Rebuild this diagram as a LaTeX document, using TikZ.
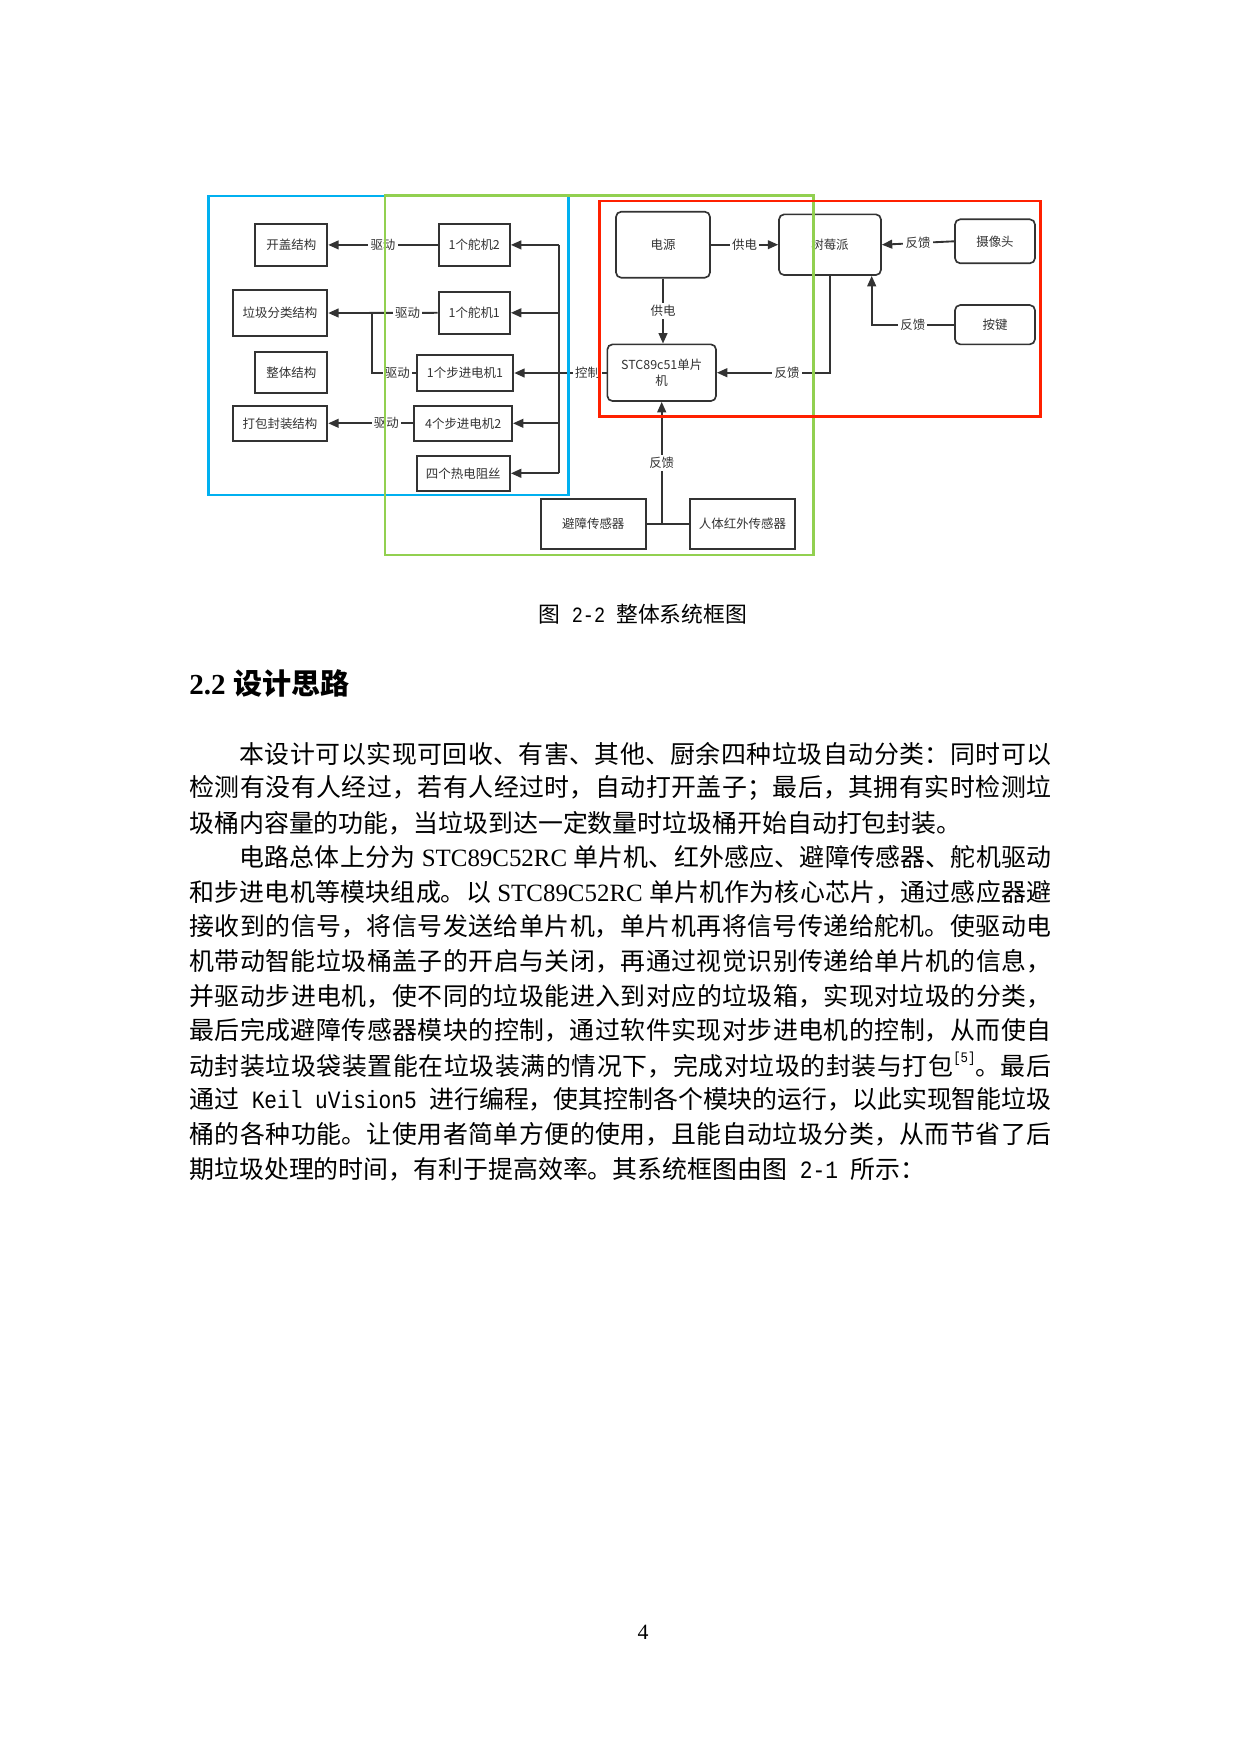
\documentclass[tikz,border=0pt]{standalone}
\usepackage{fontspec}
\setmainfont{Liberation Serif}
\newfontfamily\cjk{Noto Sans CJK SC}
\newfontfamily\monof[FakeStretch=0.85]{Liberation Mono}
\usetikzlibrary{arrows.meta}
\XeTeXlinebreaklocale "zh"
\XeTeXlinebreakskip=0pt plus 3pt minus 0.5pt
\definecolor{dk}{HTML}{333333}
\definecolor{fblue}{HTML}{00B0F0}
\definecolor{fgreen}{HTML}{92D050}
\definecolor{fred}{HTML}{FF2000}
\newcommand\jline[1]{\parbox{415.3pt}{\parindent=0pt\parfillskip=0pt\tolerance=10000 #1}}
\newcommand\eline[1]{\parbox{415.3pt}{\parindent=0pt #1}}
\newcommand\myref{\raisebox{0.5em}{\monof\fontsize{7}{7}\selectfont[5]}}
\begin{document}
\begin{tikzpicture}[x=0.16933mm,y=-0.16933mm,
  sz/.style 2 args={minimum width=#1*0.16933mm, minimum height=#2*0.16933mm},
  box/.style={draw=dk, line width=0.9pt, text=dk, inner sep=0pt, font=\cjk\fontsize{6}{7.5}\selectfont},
  rbox/.style={box, rounded corners=2.5pt, line width=0.8pt},
  line/.style={draw=dk, line width=0.9pt},
  arr/.style={line, -{Triangle[length=5pt,width=4.2pt]}},
  lbl/.style={fill=white, text=dk, inner sep=1pt, font=\cjk\fontsize{6}{7}\selectfont},
  body/.style={anchor=west, inner sep=0pt, font=\cjk\fontsize{12}{14}\selectfont, text=black}]
\fill[white] (0,0) rectangle (1240,1754);
\useasboundingbox (0,0) rectangle (1240,1754);
% ---------- boxes
\node[box, sz={72}{42.3}] (kg) at (291.3,244.9) {开盖结构};
\node[box, sz={94.6}{46}] (lj) at (280,313) {垃圾分类结构};
\node[box, sz={72}{41.6}] (zt) at (291.3,372.5) {整体结构};
\node[box, sz={94.6}{35.3}] (db) at (280,423.3) {打包封装结构};
\node[box, sz={71.3}{42.3}] (d2) at (474.3,244.9) {1个舵机2};
\node[box, sz={71.3}{42.3}] (d1) at (474.3,312.8) {1个舵机1};
\node[box, sz={96.6}{36}] (s1) at (465,373) {1个步进电机1};
\node[box, sz={97.7}{35.3}] (s2) at (463.2,423.3) {4个步进电机2};
\node[box, sz={93.3}{35.3}] (rz) at (463.3,473.3) {四个热电阻丝};
\node[rbox, sz={94}{66}] (dy) at (663,244.7) {电源};
\node[rbox, sz={102}{60.7}] (sm) at (830,244.7) {树莓派};
\node[rbox, sz={80}{44}] (sx) at (995,241.3) {摄像头};
\node[rbox, sz={80}{39.3}] (aj) at (995,324.7) {按键};
\node[rbox, sz={108.7}{56.7}, align=center] (stc) at (661.7,372.7) {STC89c51单片\\机};
\node[box, sz={105.3}{49.7}] (bz) at (593.3,524.2) {避障传感器};
\node[box, sz={105}{49.7}] (rt) at (742.5,524.2) {人体红外传感器};
% ---------- connectors
\coordinate (busx) at (559,0);
\coordinate (jn) at (371.7,312.9);
\coordinate (kx) at (871.7,0);
\draw[line] (stc.west) -- node[lbl,pos=0.4]{控制} (stc.west -| busx);
\draw[line] (d2.east -| busx) -- (rz.east -| busx);
\foreach \n in {d2,d1,s1,s2,rz} \draw[arr] (\n.east -| busx) -- (\n.east);
\draw[arr] (d2.west) -- node[lbl]{驱动} (kg.east);
\draw[arr] (d1.west) -- node[lbl,pos=0.275]{驱动} (lj.east);
\draw[line] (s1.west) -| node[lbl,pos=0.21]{驱动} (jn);
\draw[arr] (s2.west) -- node[lbl,pos=0.317]{驱动} (db.east);
\draw[arr] (dy.east) -- node[lbl]{供电} (sm.west);
\draw[arr] (dy.south) -- node[lbl]{供电} (dy.south |- stc.north);
\draw[arr] (sx.west) -- node[lbl]{反馈} (sm.east);
\draw[arr] (aj.west) -| node[lbl,pos=0.25]{反馈} (sm.south -| kx);
\draw[arr] (sm.south) |- node[lbl,pos=0.69]{反馈} (stc.east);
\draw[line] (bz.east) -- (rt.west);
\draw[arr] (stc.south |- bz.east) -- node[lbl]{反馈} (stc.south);
% ---------- frames
\draw[fblue, line width=1.2pt] (208.3,196) rectangle (568.3,495);
\draw[fgreen, line width=1.3pt] (385,195.7) rectangle (813.8,555);
\draw[fred, line width=1.4pt] (599.3,201) rectangle (1040.5,416.5);
% ---------- caption, heading, text
\node[font=\cjk\fontsize{10.5}{12}\selectfont] (cap) at (643,614) {图{\monof\ 2-2\ }整体系统框图};
\node[anchor=west, inner sep=0pt] (hd) at (189,683) {\fontsize{14}{16}\selectfont\bfseries 2.2\ {\cjk\bfseries 设计思路}};
\node[body] (l1) at (189,753.6) {\jline{\hspace*{24pt}本设计可以实现可回收、有害、其他、厨余四种垃圾自动分类：同时可以}};
\node[body] (l2) at (189,788.2) {\jline{检测有没有人经过，若有人经过时，自动打开盖子；最后，其拥有实时检测垃}};
\node[body] (l3) at (189,822.8) {\eline{圾桶内容量的功能，当垃圾到达一定数量时垃圾桶开始自动打包封装。}};
\node[body] (l4) at (189,857.4) {\jline{\hspace*{24pt}电路总体上分为{\rmfamily\ STC89C52RC\ }单片机、红外感应、避障传感器、舵机驱动}};
\node[body] (l5) at (189,892.0) {\jline{和步进电机等模块组成。以{\rmfamily\ STC89C52RC\ }单片机作为核心芯片，通过感应器避}};
\node[body] (l6) at (189,926.6) {\jline{接收到的信号，将信号发送给单片机，单片机再将信号传递给舵机。使驱动电}};
\node[body] (l7) at (189,961.2) {\jline{机带动智能垃圾桶盖子的开启与关闭，再通过视觉识别传递给单片机的信息，}};
\node[body] (l8) at (189,995.8) {\jline{并驱动步进电机，使不同的垃圾能进入到对应的垃圾箱，实现对垃圾的分类，}};
\node[body] (l9) at (189,1030.4) {\jline{最后完成避障传感器模块的控制，通过软件实现对步进电机的控制，从而使自}};
\node[body] (l10) at (189,1065.0) {\jline{动封装垃圾袋装置能在垃圾装满的情况下，完成对垃圾的封装与打包\myref。最后}};
\node[body] (l11) at (189,1099.6) {\jline{通过{\monof\ Keil uVision5\ }进行编程，使其控制各个模块的运行，以此实现智能垃圾}};
\node[body] (l12) at (189,1134.2) {\jline{桶的各种功能。让使用者简单方便的使用，且能自动垃圾分类，从而节省了后}};
\node[body] (l13) at (189,1168.8) {\eline{期垃圾处理的时间，有利于提高效率。其系统框图由图{\monof\ 2-1\ }所示：}};
\node[font=\fontsize{10.5}{12}\selectfont] (pg) at (643,1632) {4};
\end{tikzpicture}
\end{document}
